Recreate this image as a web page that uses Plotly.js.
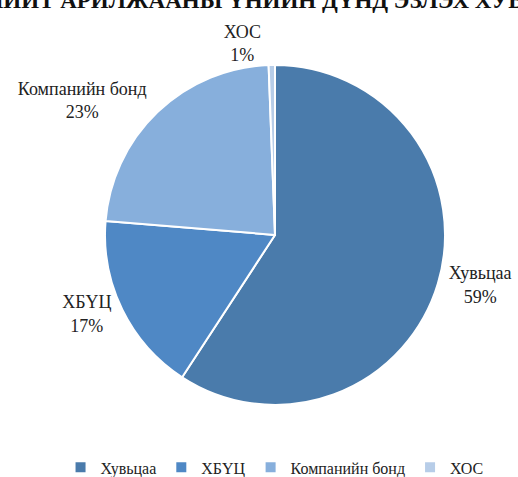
<!DOCTYPE html>
<html>
<head>
<meta charset="utf-8">
<script src="https://cdn.plot.ly/plotly-3.0.1.min.js"></script>
<style>
  body { margin: 0; background: #fff; }
  #pie { width: 518px; height: 477px; }
</style>
</head>
<body>
<div id="pie"></div>
<script>
window.onload = buildPie;

// share of total trading value by security type
var labels = ['Хувьцаа', 'ХБҮЦ', 'Компанийн бонд', 'ХОС'];
var shares = [59.2, 17.1, 23.1, 0.6];
var colors = ['#4a7bab', '#4f88c5', '#87afdc', '#b7cde8'];

var serif = '"Liberation Serif", "Times New Roman", serif';

function buildPie() {

    var slices = {
        type: 'pie',
        labels: labels,
        values: shares,
        sort: false,
        direction: 'clockwise',
        rotation: 0,
        marker: {colors: colors, line: {color: '#ffffff', width: 2}},
        textposition: 'outside',
        texttemplate: '%{label}<br>%{percent:.0%}',
        outsidetextfont: {family: serif, size: 18, color: '#222'},
        hoverinfo: 'label+percent',
        domain: {x: [0.2027, 0.8591], y: [0.151, 0.864]}
    };

    var layout = {
        width: 518,
        height: 477,
        margin: {l: 0, r: 0, t: 0, b: 0, autoexpand: false},
        paper_bgcolor: '#ffffff',
        font: {family: serif, color: '#222'},
        title: {
            text: '<b>НИЙТ АРИЛЖААНЫ ҮНИЙН ДҮНД ЭЗЛЭХ ХУВЬ</b>',
            font: {family: serif, size: 23, color: '#111'},
            x: 0.506,
            xanchor: 'center',
            y: 1.002,
            yanchor: 'middle'
        },
        showlegend: true,
        legend: {
            orientation: 'h',
            x: 0.53,
            xanchor: 'center',
            y: 0.02,
            yanchor: 'middle',
            font: {family: serif, size: 16, color: '#222'},
            itemwidth: 30,
            traceorder: 'normal'
        }
    };

    Plotly.newPlot('pie', [slices], layout, {displayModeBar: false});
}
</script>
</body>
</html>
